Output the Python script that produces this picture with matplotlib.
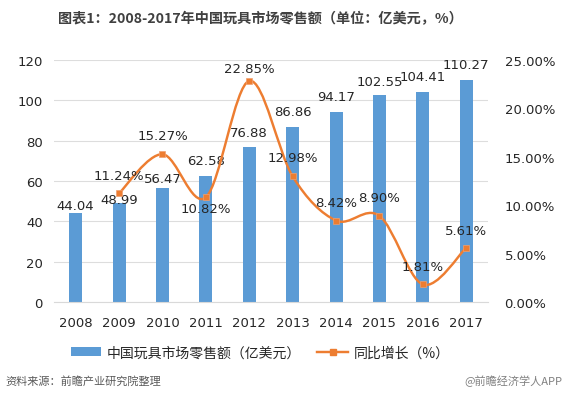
import matplotlib
matplotlib.use("Agg")
import matplotlib.pyplot as plt
from matplotlib.path import Path
from matplotlib.patches import PathPatch
from matplotlib.lines import Line2D
from matplotlib.patches import Patch
import numpy as np

plt.rcParams['font.family'] = ['DejaVu Sans', 'Noto Sans CJK SC']

years = ['2008', '2009', '2010', '2011', '2012', '2013', '2014', '2015', '2016', '2017']
sales = [44.04, 48.99, 56.47, 62.58, 76.88, 86.86, 94.17, 102.55, 104.41, 110.27]
growth = [None, 11.24, 15.27, 10.82, 22.85, 12.98, 8.42, 8.90, 1.81, 5.61]

bar_label_off = [8, 4, 10, 15, 15, 15, 16, 14, 15, 15]
pct_label_off = [0, 18, 19, -11, 12, 19, 18, 18, 18, 17]

BLUE = '#5B9BD5'
ORANGE = '#ED7D31'
TXT = '#262626'

fig = plt.figure(figsize=(5.68, 4.10), dpi=100)
ax = fig.add_axes([0.095, 0.261, 0.764, 0.590])
ax2 = ax.twinx()

x = np.arange(len(years))
ax.bar(x, sales, width=0.3, color=BLUE, zorder=2)
ax.set_ylim(0, 120)
ax.set_yticks(range(0, 121, 20))
ax.set_xlim(-0.5, len(years) - 0.5)
ax.set_xticks(x)
ax.set_xticklabels(years)
ax.grid(axis='y', color='#DDDDDD', linewidth=0.8, zorder=0)
ax.set_axisbelow(True)
for s in ['top', 'right', 'left']:
    ax.spines[s].set_visible(False)
    ax2.spines[s].set_visible(False)
ax.spines['bottom'].set_color('#D9D9D9')
ax2.spines['bottom'].set_visible(False)
ax.tick_params(axis='both', length=0, labelsize=9.5, colors=TXT, pad=8)
ax.tick_params(axis='x', pad=10)

for i, v in enumerate(sales):
    ax.annotate(f'{v:.2f}', (x[i], v), xytext=(0, bar_label_off[i]),
                textcoords='offset pixels', ha='center', va='center',
                fontsize=9.5, color=TXT, zorder=5)

ax2.set_ylim(0, 25)
ax2.set_yticks(range(0, 26, 5))
ax2.set_yticklabels([f'{t:.2f}%' for t in range(0, 26, 5)])
ax2.tick_params(axis='y', length=0, labelsize=9.5, colors=TXT, pad=12)

# smooth line (Catmull-Rom -> Bezier) through the data points
gx = [xi for xi, g in zip(x, growth) if g is not None]
gy = [g for g in growth if g is not None]
pts = np.column_stack([gx, gy]).astype(float)
verts = [tuple(pts[0])]
codes = [Path.MOVETO]
n = len(pts)
for i in range(n - 1):
    p0 = pts[i - 1] if i > 0 else pts[i]
    p1 = pts[i]
    p2 = pts[i + 1]
    p3 = pts[i + 2] if i + 2 < n else pts[i + 1]
    c1 = p1 + (p2 - p0) / 6.0
    c2 = p2 - (p3 - p1) / 6.0
    verts += [tuple(c1), tuple(c2), tuple(p2)]
    codes += [Path.CURVE4] * 3
ax2.add_patch(PathPatch(Path(verts, codes), facecolor='none', edgecolor=ORANGE,
                        linewidth=1.75, zorder=3))
ax2.plot(gx, gy, linestyle='none', marker='s', markersize=4.5, color=ORANGE,
         markeredgecolor='#F0A070', markeredgewidth=0.5, zorder=4)
for xi, g in zip(x, growth):
    if g is None:
        continue
    ax2.annotate(f'{g:.2f}%', (xi, g), xytext=(0, pct_label_off[xi]),
                 textcoords='offset pixels', ha='center', va='center',
                 fontsize=9.5, color=TXT, zorder=5)

fig.text(0.458, 0.953, '图表1：2008-2017年中国玩具市场零售额（单位：亿美元，%）',
         ha='center', va='center', fontsize=10.2, fontweight='bold', color='#404040',
         family=['Noto Sans CJK SC', 'DejaVu Sans'])

handles = [Patch(facecolor=BLUE, edgecolor='none'),
           Line2D([0], [0], color=ORANGE, lw=1.75, marker='s', markersize=4.5)]
leg = fig.legend(handles, ['中国玩具市场零售额（亿美元）', '同比增长（%）'],
                 loc='center', bbox_to_anchor=(0.458, 0.138), ncol=2, frameon=False,
                 prop={'family': ['Noto Sans CJK SC', 'DejaVu Sans'], 'size': 10},
                 handlelength=2.2, handleheight=0.6, columnspacing=1.15, handletextpad=0.4)
for t in leg.get_texts():
    t.set_color(TXT)

fig.text(0.01, 0.07, '资料来源：前瞻产业研究院整理', ha='left', va='center',
         fontsize=8, style='italic', color='#595959',
         family=['Noto Sans CJK SC', 'DejaVu Sans'])
fig.text(0.99, 0.07, '@前瞻经济学人APP', ha='right', va='center',
         fontsize=8, color='#808080',
         family=['Noto Sans CJK SC', 'DejaVu Sans'])

fig.savefig('out.png', dpi=100)
